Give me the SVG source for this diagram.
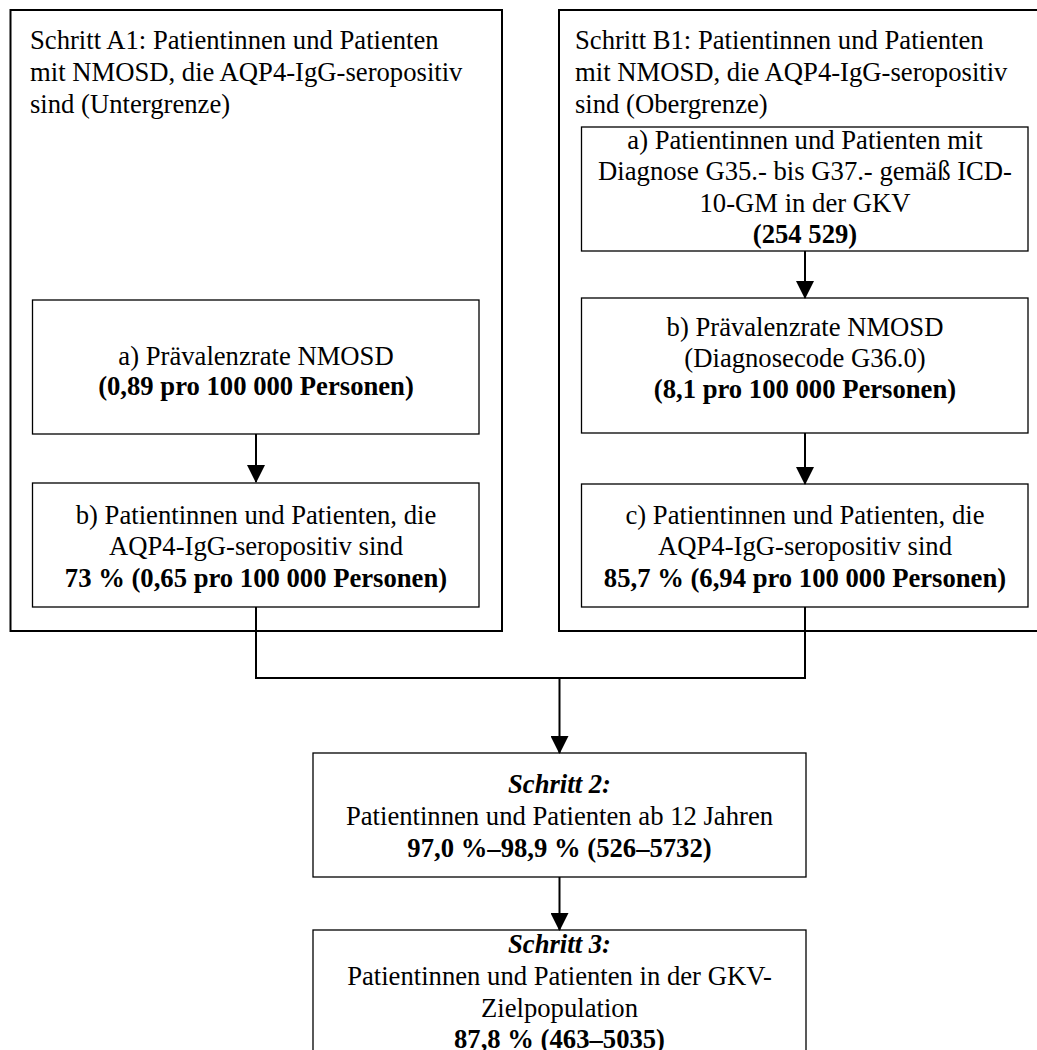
<svg xmlns="http://www.w3.org/2000/svg" width="1037" height="1050" viewBox="0 0 1037 1050">
<style>
text{font-family:"Liberation Serif","Times New Roman",serif;font-size:26.67px;fill:#000}
.c{text-anchor:middle}
.b{font-weight:bold}
.bi{font-weight:bold;font-style:italic}
.outer{fill:none;stroke:#000;stroke-width:2}
.inner{fill:#fff;stroke:#000;stroke-width:1.3}
.con{fill:none;stroke:#000;stroke-width:2}
</style>
<defs>
<marker id="ah" markerUnits="userSpaceOnUse" markerWidth="18" markerHeight="18" viewBox="0 0 18 18" refX="17" refY="9" orient="auto">
<path d="M0,0 L18,9 L0,18 Z" fill="#000"/>
</marker>
</defs>
<rect width="1037" height="1050" fill="#fff"/>
<g id="stepA1">
<rect class="outer" x="10.5" y="10" width="491.5" height="621"/>
<text x="30" y="49">Schritt A1: Patientinnen und Patienten</text>
<text x="30" y="81">mit NMOSD, die AQP4-IgG-seropositiv</text>
<text x="30" y="113">sind (Untergrenze)</text>
</g>
<g id="stepB1">
<rect class="outer" x="559" y="10" width="492" height="621"/>
<text x="575" y="49">Schritt B1: Patientinnen und Patienten</text>
<text x="575" y="81">mit NMOSD, die AQP4-IgG-seropositiv</text>
<text x="575" y="113">sind (Obergrenze)</text>
</g>
<g id="A1a">
<rect class="inner" x="32.5" y="300" width="446.5" height="134"/>
<text class="c" x="256" y="365">a) Prävalenzrate NMOSD</text>
<text class="c b" x="256" y="395">(0,89 pro 100 000 Personen)</text>
</g>
<g id="A1b">
<rect class="inner" x="32.5" y="483" width="446.5" height="124"/>
<text class="c" x="256" y="524">b) Patientinnen und Patienten, die</text>
<text class="c" x="256" y="555">AQP4-IgG-seropositiv sind</text>
<text class="c b" x="256" y="587">73 % (0,65 pro 100 000 Personen)</text>
</g>
<g id="B1a">
<rect class="inner" x="581.5" y="127" width="446.5" height="124"/>
<text class="c" x="805" y="149">a) Patientinnen und Patienten mit</text>
<text class="c" x="805" y="180">Diagnose G35.- bis G37.- gemäß ICD-</text>
<text class="c" x="805" y="212">10-GM in der GKV</text>
<text class="c b" x="805" y="243">(254 529)</text>
</g>
<g id="B1b">
<rect class="inner" x="581.5" y="298" width="446.5" height="135"/>
<text class="c" x="805" y="336">b) Prävalenzrate NMOSD</text>
<text class="c" x="805" y="367">(Diagnosecode G36.0)</text>
<text class="c b" x="805" y="398">(8,1 pro 100 000 Personen)</text>
</g>
<g id="B1c">
<rect class="inner" x="581.5" y="484" width="446.5" height="123"/>
<text class="c" x="805" y="524">c) Patientinnen und Patienten, die</text>
<text class="c" x="805" y="555">AQP4-IgG-seropositiv sind</text>
<text class="c b" x="805" y="587">85,7 % (6,94 pro 100 000 Personen)</text>
</g>
<g id="step2">
<rect class="inner" x="313" y="753" width="493" height="124"/>
<text class="c bi" x="559.5" y="793">Schritt 2:</text>
<text class="c" x="559.5" y="825">Patientinnen und Patienten ab 12 Jahren</text>
<text class="c b" x="559.5" y="857">97,0 %–98,9 % (526–5732)</text>
</g>
<g id="step3">
<rect class="inner" x="313" y="930" width="493" height="140"/>
<text class="c bi" x="559.5" y="953">Schritt 3:</text>
<text class="c" x="559.5" y="985">Patientinnen und Patienten in der GKV-</text>
<text class="c" x="559.5" y="1017">Zielpopulation</text>
<text class="c b" x="559.5" y="1048">87,8 % (463–5035)</text>
</g>
<g id="connectors">
<path class="con" d="M256,434 V482" marker-end="url(#ah)"/>
<path class="con" d="M805,251 V298" marker-end="url(#ah)"/>
<path class="con" d="M805,433 V484" marker-end="url(#ah)"/>
<path class="con" d="M256,607 V678 H805 V607"/>
<path class="con" d="M559.5,678 V753" marker-end="url(#ah)"/>
<path class="con" d="M559.5,877 V930" marker-end="url(#ah)"/>
</g>
</svg>
